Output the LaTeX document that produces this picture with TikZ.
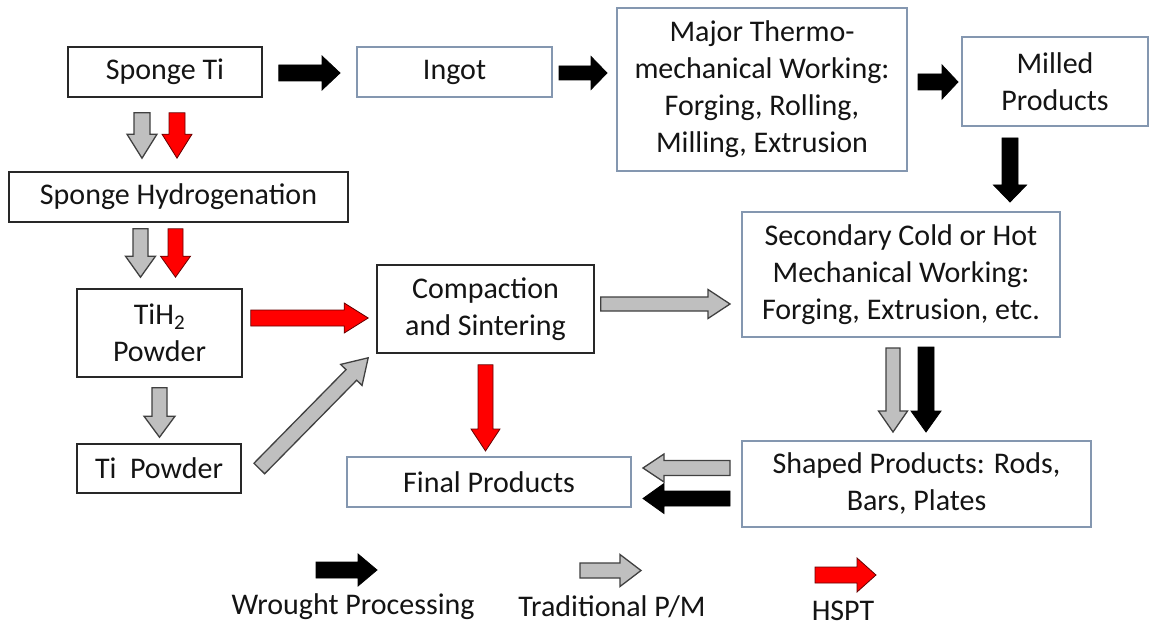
\documentclass[tikz,border=0pt]{standalone}
\usepackage{fontspec}
\setmainfont{Carlito}
\usetikzlibrary{calc}
\definecolor{boxblue}{RGB}{132,151,176}
\definecolor{boxdark}{RGB}{40,40,40}
\definecolor{arrgray}{RGB}{191,191,191}
\definecolor{arrgrayline}{RGB}{64,64,64}
\definecolor{arrred}{RGB}{255,0,0}
\definecolor{txt}{RGB}{20,20,20}
\tikzset{
  blk/.style n args={3}{to path={let \p1=(\tikztostart), \p2=(\tikztotarget),
      \n1={atan2(\y2-\y1,\x2-\x1)}, \n2={veclen(\x2-\x1,\y2-\y1)}, \n3={\n2-#3pt} in
      ([shift={(\p1)},rotate=\n1]0pt,#1pt) -- ([shift={(\p1)},rotate=\n1]\n3,#1pt)
      -- ([shift={(\p1)},rotate=\n1]\n3,#2pt) -- ([shift={(\p1)},rotate=\n1]\n2,0pt)
      -- ([shift={(\p1)},rotate=\n1]\n3,-#2pt) -- ([shift={(\p1)},rotate=\n1]\n3,-#1pt)
      -- ([shift={(\p1)},rotate=\n1]0pt,-#1pt) -- cycle}},
  wr/.style={fill=black, draw=black, line width=0.8pt, line join=miter},
  pm/.style={fill=arrgray, draw=arrgrayline, line width=1.3pt, line join=miter},
  hs/.style={fill=arrred, draw=red!40!black, line width=0.8pt, line join=miter},
  darkbox/.style={draw=boxdark, line width=1.6pt, inner sep=0pt, align=center, fill=white, text=txt},
  bluebox/.style={draw=boxblue, line width=2pt, inner sep=0pt, align=center, fill=white, text=txt},
  legtext/.style={inner sep=0pt, text=txt}
}
\begin{document}
\begin{tikzpicture}[x=1pt, y=-1pt, font=\fontsize{30}{37}\selectfont]
\useasboundingbox[fill=white] (0,0) rectangle (1156,628);

% boxes
\node[darkbox, minimum width=194pt, minimum height=50pt] (sponge) at (165,72) {Sponge Ti};
\node[bluebox, minimum width=195pt, minimum height=50pt] (ingot) at (454.5,72) {Ingot};
\node[bluebox, minimum width=290pt, minimum height=163pt] (major) at (762,89.5)
  {Major Thermo-\\mechanical Working:\\Forging, Rolling,\\Milling, Extrusion};
\node[bluebox, minimum width=186pt, minimum height=89pt] (milled) at (1055,81.5) {Milled\\Products};
\node[darkbox, minimum width=339pt, minimum height=50pt] (hydro) at (178.5,197) {Sponge Hydrogenation};
\node[darkbox, minimum width=165pt, minimum height=88pt] (tih2) at (159.5,333) {TiH\textsubscript{2}\\Powder};
\node[darkbox, minimum width=164pt, minimum height=49pt] (tipow) at (159,468.5) {Ti\ \ Powder};
\node[darkbox, minimum width=217pt, minimum height=88pt] (comp) at (485.5,309) {Compaction\\and Sintering};
\node[bluebox, minimum width=318pt, minimum height=125pt] (second) at (901,274.5)
  {Secondary Cold or Hot\\Mechanical Working:\\Forging, Extrusion, etc.};
\node[bluebox, minimum width=284pt, minimum height=50pt] (final) at (489,482) {Final Products};
\node[bluebox, minimum width=349pt, minimum height=86pt] (shaped) at (916.5,484)
  {Shaped Products: Rods,\\Bars, Plates};

% wrought (black) arrows
\draw[wr] ($(sponge.east)+(16,1)$) to[blk={8}{17}{18}] ($(ingot.west)+(-16,1)$);
\draw[wr] ($(ingot.east)+(6,1)$) to[blk={7}{16.5}{16}] ($(major.west|-ingot.east)+(-9,1)$);
\draw[wr] ($(major.east|-milled.west)+(10,0.5)$) to[blk={8}{17}{16}] ($(milled.west)+(-3,0.5)$);
\draw[wr] ($(milled.south)+(-45,11)$) to[blk={8}{16.5}{17}] ($(second.north)+(109,-9)$);

% sponge -> hydrogenation
\draw[pm] ($(sponge.south)+(-23,15)$) to[blk={8}{15}{24}] ($(hydro.north)+(-36.5,-13)$);
\draw[hs] ($(sponge.south)+(12,15)$) to[blk={8}{15}{24}] ($(hydro.north)+(-1.5,-13)$);

% hydrogenation -> TiH2
\draw[pm] ($(hydro.south)+(-38,6)$) to[blk={7.5}{15}{21}] ($(tih2.north)+(-19,-11)$);
\draw[hs] ($(hydro.south)+(-3,6)$) to[blk={7.5}{15}{21}] ($(tih2.north)+(16,-11)$);

% TiH2 -> compaction (HSPT)
\draw[hs] ($(tih2.east)+(8,-15)$) to[blk={8}{15}{24}] ($(comp.west)+(-8,9)$);

% TiH2 -> Ti powder
\draw[pm] ($(tih2.south)+(0,10)$) to[blk={7.5}{15.5}{21}] ($(tipow.north)+(0.5,-6)$);

% Ti powder -> compaction (diagonal)
\draw[pm] ($(tipow.east)+(17.5,0)$) to[blk={7.5}{15}{24}] ($(comp.south west)+(-8,4)$);

% compaction -> final (HSPT)
\draw[hs] ($(comp.south)+(0,11)$) to[blk={7.5}{14.5}{22}] ($(final.north)+(-3.5,-5)$);

% compaction -> secondary (P/M)
\draw[pm] ($(comp.east)+(6,-5)$) to[blk={7}{14.5}{22}] ($(second.west)+(-11,29.5)$);

% secondary -> shaped
\draw[pm] ($(second.south)+(-8,10)$) to[blk={7}{14.5}{21}] ($(shaped.north)+(-23.5,-8)$);
\draw[wr] ($(second.south)+(25,9)$) to[blk={8}{15}{21}] ($(shaped.north)+(9.5,-8)$);

% shaped -> final
\draw[pm] ($(shaped.west)+(-11,-16)$) to[blk={7.5}{14}{21}] ($(final.east)+(11,-14)$);
\draw[wr] ($(shaped.west)+(-11,14.5)$) to[blk={7.5}{15}{21}] ($(final.east)+(11,16.5)$);

% legend
\node[legtext] (lw) at (353,607) {Wrought Processing};
\node[legtext] (lp) at (612,607) {Traditional P/M};
\node[legtext] (lh) at (843,611) {HSPT};
\coordinate (lwa) at (316,570);
\coordinate (lwb) at (377,570);
\coordinate (lpa) at (580,570.5);
\coordinate (lpb) at (641,570.5);
\coordinate (lha) at (815,575);
\coordinate (lhb) at (876,575);
\draw[wr] (lwa) to[blk={8}{16}{19}] (lwb);
\draw[pm] (lpa) to[blk={7.5}{16}{21}] (lpb);
\draw[hs] (lha) to[blk={8}{17}{19}] (lhb);
\end{tikzpicture}
\end{document}
